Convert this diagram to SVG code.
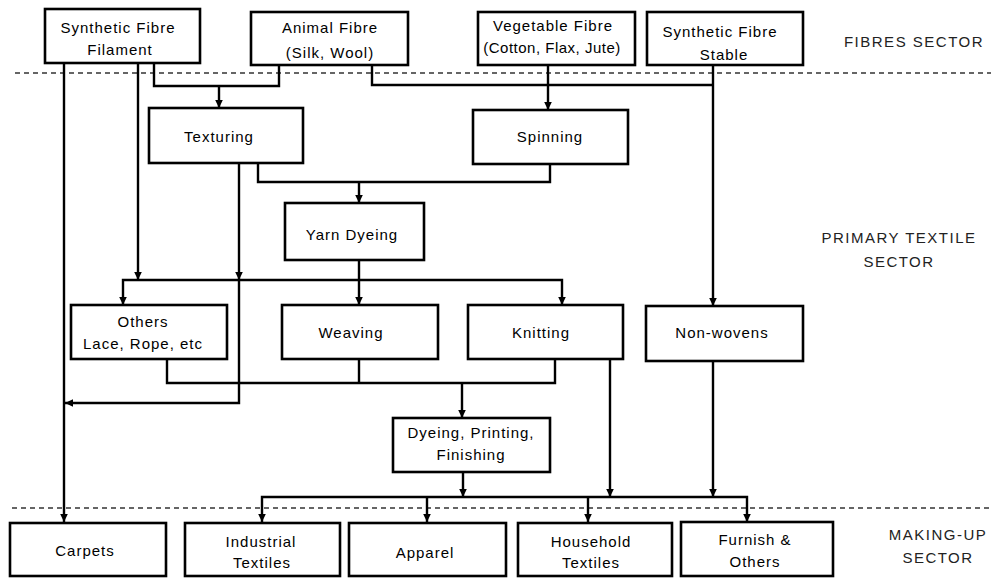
<svg xmlns="http://www.w3.org/2000/svg" width="991" height="578" viewBox="0 0 991 578">
<defs>
<marker id="ah" markerUnits="userSpaceOnUse" markerWidth="10" markerHeight="10" viewBox="0 0 10 10" refX="8" refY="5" orient="auto">
<path d="M0,1.2 L8,5 L0,8.8 Z" fill="#000"/>
</marker>
</defs>
<style>
.box{fill:#fff;stroke:#000;stroke-width:2.6}
.t{font-family:"Liberation Sans",Arial,sans-serif;font-size:15px;fill:#000;text-anchor:middle;letter-spacing:1px}
.s{font-family:"Liberation Sans",Arial,sans-serif;font-size:15px;fill:#222;text-anchor:middle;letter-spacing:1.5px}
.c path{fill:none;stroke:#000;stroke-width:2.4}
.a{marker-end:url(#ah)}
.d{stroke:#333;stroke-width:1.6;stroke-dasharray:5 4;fill:none}
</style>
<g id="dividers">
<line class="d" x1="15" y1="73" x2="991" y2="73"/>
<line class="d" x1="12" y1="508" x2="991" y2="508"/>
</g>
<g id="sectors">
<text class="s" x="914" y="47">FIBRES SECTOR</text>
<text class="s" x="899" y="243">PRIMARY TEXTILE</text>
<text class="s" x="899" y="267">SECTOR</text>
<text class="s" x="938" y="540">MAKING-UP</text>
<text class="s" x="938" y="563">SECTOR</text>
</g>
<g class="c" id="connectors">
<path class="a" d="M64,63 V522"/>
<path class="a" d="M138,63 V280"/>
<path d="M154,63 V86 H279 V65"/>
<path class="a" d="M219,86 V108"/>
<path d="M372,65 V85 H713"/>
<path class="a" d="M713,65 V306"/>
<path class="a" d="M548,65 V110"/>
<path class="a" d="M239,163 V280"/>
<path class="a" d="M239,280 V403 H65"/>
<path d="M258,163 V182 H550 V164"/>
<path class="a" d="M359,182 V203"/>
<path class="a" d="M359,260 V305"/>
<path class="a" d="M359,280 H123 V305"/>
<path class="a" d="M359,280 H562 V305"/>
<path d="M167,359 V383 H555 V359"/>
<path d="M359,359 V383"/>
<path class="a" d="M462,383 V418"/>
<path class="a" d="M610,359 V497"/>
<path class="a" d="M713,361 V497"/>
<path class="a" d="M463,472 V497"/>
<path class="a" d="M463,497 H262 V522"/>
<path class="a" d="M463,497 H747 V522"/>
<path class="a" d="M427,497 V522"/>
<path class="a" d="M588,497 V522"/>
</g>
<g id="n-synthetic-filament"><rect class="box" x="45" y="9" width="155" height="54"/><text class="t" x="118" y="33">Synthetic Fibre</text><text class="t" x="120" y="55">Filament</text></g>
<g id="n-animal"><rect class="box" x="251" y="12" width="157" height="53"/><text class="t" x="330" y="33">Animal Fibre</text><text class="t" x="330" y="58">(Silk, Wool)</text></g>
<g id="n-vegetable"><rect class="box" x="478" y="12" width="157" height="53"/><text class="t" x="553" y="31">Vegetable Fibre</text><text class="t" x="552" y="53" style="letter-spacing:0.5px">(Cotton, Flax, Jute)</text></g>
<g id="n-synthetic-stable"><rect class="box" x="647" y="12" width="156" height="53"/><text class="t" x="720" y="37">Synthetic Fibre</text><text class="t" x="724" y="60">Stable</text></g>
<g id="n-texturing"><rect class="box" x="149" y="108" width="154" height="55"/><text class="t" x="219" y="142">Texturing</text></g>
<g id="n-spinning"><rect class="box" x="473" y="110" width="155" height="54"/><text class="t" x="550" y="142">Spinning</text></g>
<g id="n-yarn-dyeing"><rect class="box" x="285" y="203" width="139" height="57"/><text class="t" x="352" y="240">Yarn Dyeing</text></g>
<g id="n-others"><rect class="box" x="71" y="305" width="156" height="54"/><text class="t" x="143" y="327">Others</text><text class="t" x="143" y="349">Lace, Rope, etc</text></g>
<g id="n-weaving"><rect class="box" x="282" y="305" width="156" height="54"/><text class="t" x="351" y="338">Weaving</text></g>
<g id="n-knitting"><rect class="box" x="468" y="305" width="155" height="54"/><text class="t" x="541" y="338">Knitting</text></g>
<g id="n-nonwovens"><rect class="box" x="646" y="306" width="157" height="55"/><text class="t" x="722" y="338">Non-wovens</text></g>
<g id="n-dyeing"><rect class="box" x="393" y="418" width="157" height="54"/><text class="t" x="471" y="438">Dyeing, Printing,</text><text class="t" x="471" y="460">Finishing</text></g>
<g id="n-carpets"><rect class="box" x="10" y="523" width="156" height="53"/><text class="t" x="85" y="556">Carpets</text></g>
<g id="n-industrial"><rect class="box" x="185" y="523" width="155" height="53"/><text class="t" x="261" y="547">Industrial</text><text class="t" x="262" y="568">Textiles</text></g>
<g id="n-apparel"><rect class="box" x="349" y="523" width="157" height="53"/><text class="t" x="425" y="558">Apparel</text></g>
<g id="n-household"><rect class="box" x="518" y="523" width="154" height="53"/><text class="t" x="591" y="547">Household</text><text class="t" x="591" y="568">Textiles</text></g>
<g id="n-furnish"><rect class="box" x="681" y="522" width="152" height="54"/><text class="t" x="755" y="545">Furnish &amp;</text><text class="t" x="755" y="567">Others</text></g>
</svg>
